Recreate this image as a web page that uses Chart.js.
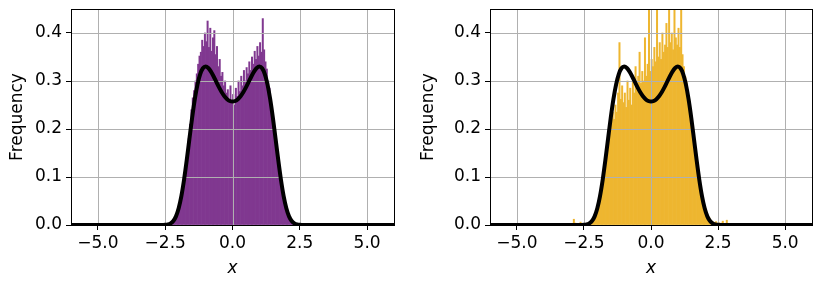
<!DOCTYPE html>
<html>
<head>
<meta charset="utf-8">
<script src="https://cdn.jsdelivr.net/npm/chart.js@4.4.1/dist/chart.umd.min.js"></script>
<style>
  html, body { margin: 0; padding: 0; background: #fff; }
  #wrap { position: relative; width: 822px; height: 286px; }
  canvas { position: absolute; top: 0; }
</style>
</head>
<body>
<div id="wrap">
  <canvas id="left" width="411" height="286" style="left:0"></canvas>
  <canvas id="right" width="411" height="286" style="left:411px"></canvas>
</div>
<script>
// === Eixos ===
const xTicks = [-5, -2.5, 0, 2.5, 5];
const yTicks = [0, 0.1, 0.2, 0.3, 0.4];

// === Curva de densidade (linha preta, igual nos dois painéis) ===
const curveX = [-6, -3, -2.9, -2.8, -2.7, -2.6, -2.5, -2.4, -2.3, -2.2, -2.1, -2, -1.9, -1.8, -1.7, -1.6, -1.5, -1.4, -1.3, -1.2, -1.1, -1,
  -0.9, -0.8, -0.7, -0.6, -0.5, -0.4, -0.3, -0.2, -0.1, 0, 0.1, 0.2, 0.3, 0.4, 0.5, 0.6, 0.7, 0.8, 0.9,
  1, 1.1, 1.2, 1.3, 1.4, 1.5, 1.6, 1.7, 1.8, 1.9, 2, 2.1, 2.2, 2.3, 2.4, 2.5, 2.6, 2.7, 2.8, 2.9, 3, 6];
const curveY = [0, 0, 0, 0, 0, 0.0001, 0.0003, 0.0011, 0.0033, 0.0083, 0.018, 0.0348, 0.0601, 0.0942, 0.1352, 0.1797, 0.2234, 0.2622, 0.2931, 0.3145, 0.3265, 0.3301,
  0.3271, 0.3196, 0.3093, 0.298, 0.2868, 0.2767, 0.2684, 0.2622, 0.2584, 0.2571, 0.2584, 0.2622, 0.2684, 0.2767, 0.2868, 0.298, 0.3093, 0.3196, 0.3271,
  0.3301, 0.3265, 0.3145, 0.2931, 0.2622, 0.2234, 0.1797, 0.1352, 0.0942, 0.0601, 0.0348, 0.018, 0.0083, 0.0033, 0.0011, 0.0003, 0.0001, 0, 0, 0, 0, 0];

// === Histogramas ===
const binWidth = 0.05;

// painel esquerdo (roxo): bins de -2.5 a 2.5
const purpleStart = -2.5;
const purpleHeights = [
  0, 0.001, 0.001, 0.003, 0.004, 0.006, 0.011, 0.014, 0.022, 0.031,
  0.042, 0.05, 0.069, 0.083, 0.106, 0.127, 0.152, 0.18, 0.21, 0.24,
  0.265, 0.28, 0.3, 0.315, 0.335, 0.352, 0.36, 0.385, 0.372, 0.4,
  0.382, 0.425, 0.37, 0.41, 0.362, 0.39, 0.405, 0.355, 0.372, 0.33,
  0.345, 0.31, 0.318, 0.29, 0.3, 0.275, 0.282, 0.262, 0.29, 0.258,
  0.272, 0.25, 0.285, 0.268, 0.3, 0.278, 0.31, 0.29, 0.322, 0.3,
  0.328, 0.315, 0.34, 0.322, 0.35, 0.335, 0.362, 0.345, 0.372, 0.352,
  0.38, 0.36, 0.43, 0.365, 0.34, 0.325, 0.3, 0.285, 0.26, 0.238,
  0.215, 0.193, 0.17, 0.148, 0.125, 0.103, 0.085, 0.066, 0.053, 0.04,
  0.029, 0.021, 0.014, 0.01, 0.006, 0.004, 0.002, 0.001, 0.001, 0
];

// painel direito (amarelo): bins de -3 a 3
const goldStart = -3.0;
const goldHeights = [
  0, 0, 0.012, 0.004, 0, 0.003, 0, 0.006, 0.002, 0.003,
  0.001, 0.002, 0.004, 0.003, 0.006, 0.008, 0.012, 0.016, 0.026, 0.033,
  0.045, 0.052, 0.07, 0.08, 0.1, 0.115, 0.14, 0.16, 0.175, 0.2,
  0.21, 0.235, 0.22, 0.25, 0.235, 0.275, 0.38, 0.262, 0.29, 0.255,
  0.275, 0.245, 0.3, 0.26, 0.285, 0.25, 0.305, 0.275, 0.33, 0.29,
  0.31, 0.36, 0.295, 0.32, 0.3, 0.39, 0.31, 0.335, 0.45, 0.32,
  0.345, 0.33, 0.37, 0.34, 0.46, 0.35, 0.38, 0.345, 0.4, 0.36,
  0.375, 0.42, 0.37, 0.46, 0.38, 0.4, 0.365, 0.46, 0.39, 0.375,
  0.41, 0.37, 0.46, 0.355, 0.33, 0.31, 0.3, 0.275, 0.26, 0.24,
  0.22, 0.195, 0.175, 0.15, 0.13, 0.107, 0.09, 0.072, 0.057, 0.046,
  0.035, 0.027, 0.02, 0.015, 0.01, 0.008, 0.006, 0.004, 0.007, 0.002,
  0.005, 0.001, 0.004, 0.008, 0.002, 0.003, 0.01, 0.002, 0, 0
];

Chart.defaults.font.family = '"DejaVu Sans", sans-serif';
Chart.defaults.color = '#000';

const toBars = (start, heights) => heights.map((h, i) => ({ x: start + binWidth * (i + 0.5), y: h }));
const curvePoints = curveX.map((x, i) => ({ x: x, y: curveY[i] }));
const fmt = v => v.toFixed(1).replace('-', '\u2212');

// grade por cima das barras e por baixo da curva (como no matplotlib)
const gridPlugin = {
  id: 'gridOver',
  beforeDatasetDraw(chart, args) {
    if (args.index !== 0) return;
    const { ctx, chartArea: a, scales } = chart;
    ctx.save();
    ctx.strokeStyle = '#b0b0b0';
    ctx.lineWidth = 1;
    ctx.beginPath();
    xTicks.forEach(v => {
      const px = Math.round(scales.x.getPixelForValue(v)) + 0.5;
      ctx.moveTo(px, a.top); ctx.lineTo(px, a.bottom);
    });
    yTicks.forEach(v => {
      const py = Math.round(scales.y.getPixelForValue(v)) + 0.5;
      ctx.moveTo(a.left, py); ctx.lineTo(a.right, py);
    });
    ctx.stroke();
    ctx.restore();
  }
};

// moldura completa (os 4 lados)
const framePlugin = {
  id: 'frame',
  afterDraw(chart) {
    const { ctx, chartArea: a } = chart;
    ctx.save();
    ctx.strokeStyle = '#000';
    ctx.lineWidth = 1;
    ctx.strokeRect(Math.round(a.left) + 0.5, Math.round(a.top) + 0.5, Math.round(a.right - a.left), Math.round(a.bottom - a.top));
    ctx.restore();
  }
};

const noPad = s => { s.paddingTop = 0; s.paddingBottom = 0; s.paddingLeft = 0; s.paddingRight = 0; };

function buildChart(id, bars, color, yWidth, padRight) {
  const ctx = document.getElementById(id).getContext('2d');
  return new Chart(ctx, {
    type: 'bar',
    data: {
      datasets: [
        {
          type: 'line',
          data: curvePoints,
          borderColor: '#000',
          borderWidth: 4,
          pointRadius: 0,
          cubicInterpolationMode: 'monotone',
          order: 0
        },
        {
          type: 'bar',
          data: bars,
          backgroundColor: color,
          borderWidth: 0,
          barPercentage: 1,
          categoryPercentage: 1,
          order: 1
        }
      ]
    },
    options: {
      responsive: false,
      animation: false,
      devicePixelRatio: 1,
      layout: { padding: { left: 0, right: padRight, top: 9, bottom: 0 } },
      plugins: { legend: { display: false }, tooltip: { enabled: false } },
      scales: {
        x: {
          type: 'linear',
          min: -6,
          max: 6,
          offset: false,
          afterBuildTicks: s => { s.ticks = xTicks.map(v => ({ value: v })); },
          afterFit: s => { s.height = 61; noPad(s); },
          ticks: { callback: v => fmt(v), font: { size: 17 }, padding: 3, maxRotation: 0, autoSkip: false },
          grid: { offset: false, drawOnChartArea: false, tickLength: 5, tickColor: '#000', tickWidth: 1 },
          border: { color: '#000', width: 1 },
          title: { display: true, text: 'x', font: { size: 17, style: 'italic' }, padding: { top: 0, bottom: 7 } }
        },
        y: {
          min: 0,
          max: 0.45,
          afterBuildTicks: s => { s.ticks = yTicks.map(v => ({ value: v })); },
          afterFit: s => { s.width = yWidth; noPad(s); },
          ticks: { callback: v => fmt(v), font: { size: 17 }, padding: 4, autoSkip: false },
          grid: { drawOnChartArea: false, tickLength: 5, tickColor: '#000', tickWidth: 1 },
          border: { color: '#000', width: 1 },
          title: { display: true, text: 'Frequency', font: { size: 17 }, padding: { top: 7, bottom: 0 } }
        }
      }
    },
    plugins: [gridPlugin, framePlugin]
  });
}

buildChart('left', toBars(purpleStart, purpleHeights), 'rgb(128,56,144)', 71, 17);
buildChart('right', toBars(goldStart, goldHeights), 'rgb(238,182,48)', 79, 10);
</script>
</body>
</html>
